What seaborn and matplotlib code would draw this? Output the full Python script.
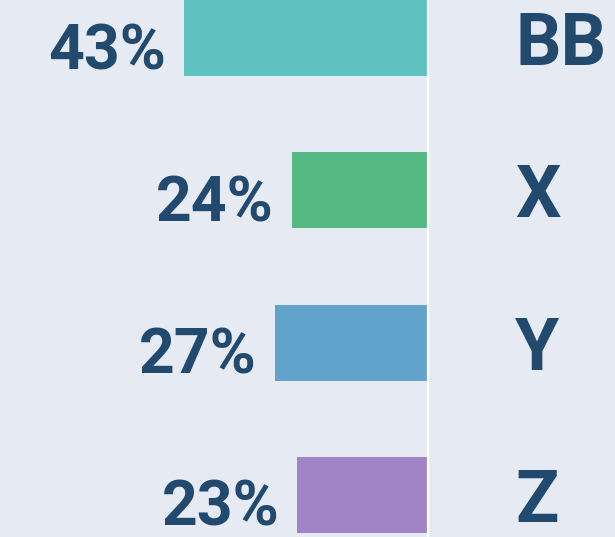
import matplotlib
matplotlib.use("Agg")
import matplotlib.pyplot as plt
import seaborn as sns
import pandas as pd

categories = ["BB", "X", "Y", "Z"]
values = [43, 24, 27, 23]
labels = ["43%", "24%", "27%", "23%"]
colors = ["#5EC0BF", "#55B983", "#62A3CC", "#A084C6"]

bg = "#E6EBF3"
text_color = "#214A6E"

sns.set_theme(style="white")
plt.rcParams["font.family"] = ["Roboto", "DejaVu Sans"]

df = pd.DataFrame({"cat": categories, "val": values})

fig = plt.figure(figsize=(6.15, 5.37), dpi=100)
fig.patch.set_facecolor(bg)
ax = fig.add_axes([0, 0, 1, 1])
ax.set_facecolor(bg)

sns.barplot(data=df, x="val", y="cat", hue="cat", palette=colors,
            orient="h", width=0.5, legend=False, ax=ax, saturation=1,
            linewidth=0)

ax.set_xlim(75.35, -32.9)
ax.set_ylim(3.276, -0.25)
ax.axvline(0, color="white", linewidth=1.6, zorder=5)

for i, (v, lab, cat) in enumerate(zip(values, labels, categories)):
    ax.annotate(lab, xy=(v, i), xytext=(-18, -31), textcoords="offset pixels",
                ha="right", va="baseline", fontsize=45, fontweight="bold",
                color=text_color)
    ax.annotate(cat, xy=(515 / 615, i), xycoords=("axes fraction", "data"),
                xytext=(0, -27), textcoords="offset pixels",
                ha="left", va="baseline", fontsize=51.5, fontweight="bold",
                color=text_color)

ax.set_xlabel("")
ax.set_ylabel("")
ax.set_xticks([])
ax.set_yticks([])
for s in ax.spines.values():
    s.set_visible(False)

fig.savefig("out.png", dpi=100, facecolor=bg)
